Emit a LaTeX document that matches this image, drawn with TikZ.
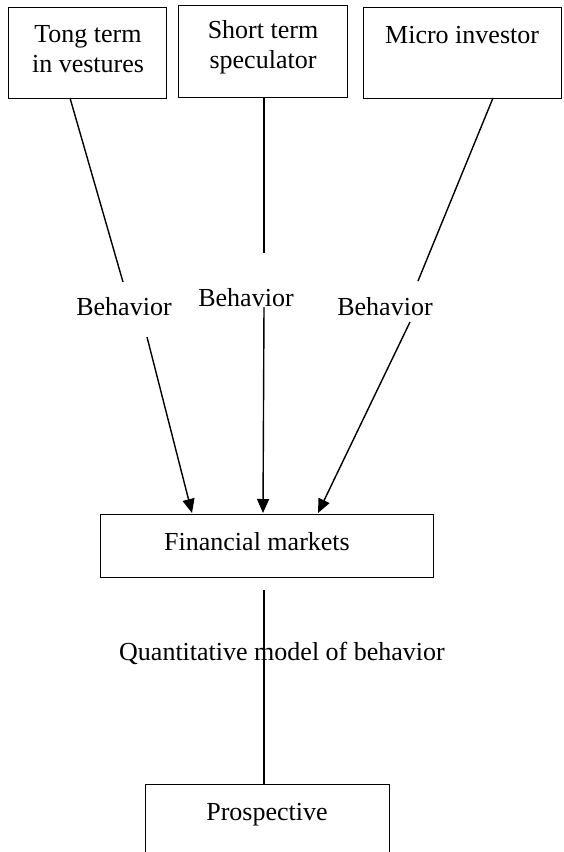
\documentclass[tikz,border=0pt]{standalone}
\usepackage{fontspec}
\setmainfont{Liberation Serif}
\usetikzlibrary{arrows.meta}
\begin{document}
\begin{tikzpicture}[x=1pt,y=-1pt,
  box/.style={draw, line width=1.4pt, inner sep=0pt, anchor=north west},
  lbl/.style={inner sep=0pt, anchor=base, font=\fontsize{26}{30}\selectfont},
  conn/.style={line width=1.4pt},
  arr/.style={line width=1.4pt, -{Triangle[length=14pt,width=12pt]}}]
\useasboundingbox (0,0) rectangle (563,852);
\clip (0,0) rectangle (563,852);
% boxes
\node[box, minimum width=158pt, minimum height=91pt] (b1) at (8,7) {};
\node[box, minimum width=169pt, minimum height=92pt] (b2) at (178,5) {};
\node[box, minimum width=198pt, minimum height=91pt] (b3) at (363,7) {};
\node[box, minimum width=333pt, minimum height=63pt] (fm) at (100,514) {};
\node[box, minimum width=244pt, minimum height=80pt] (pr) at (145,784) {};
% box texts
\node[lbl] (t1a) at (88,42) {Tong term};
\node[lbl] (t1b) at (88,72) {in vestures};
\node[lbl] (t2a) at (263,38) {Short term};
\node[lbl] (t2b) at (263,68) {speculator};
\node[lbl, anchor=base west] (t3) at (385,43) {Micro investor};
\node[lbl] (tfm) at (257,550) {Financial markets};
\node[lbl] (tpr) at (267,820) {Prospective};
% labels
\node[lbl] (be1) at (124,315) {Behavior};
\node[lbl] (be2) at (246,306) {Behavior};
\node[lbl] (be3) at (385,315) {Behavior};
\node[lbl] (qm) at (282,660) {Quantitative model of behavior};
% connector points
\coordinate (a1) at (70,98);
\coordinate (a2) at (123,282);
\coordinate (a3) at (147,337);
\coordinate (a4) at (192,513);
\coordinate (b1p) at (264,97);
\coordinate (b2p) at (264,253);
\coordinate (b3p) at (264,307);
\coordinate (b4p) at (263,513);
\coordinate (c1) at (493,98);
\coordinate (c2) at (418,281);
\coordinate (c3) at (410,322);
\coordinate (c4) at (318,513);
\coordinate (d1) at (264,590);
\coordinate (d2) at (264,784);
% connectors
\draw[conn] (a1) -- (a2);
\draw[arr] (a3) -- (a4);
\draw[conn] (b1p) -- (b2p);
\draw[arr] (b3p) -- (b4p);
\draw[conn] (c1) -- (c2);
\draw[arr] (c3) -- (c4);
\draw[conn] (d1) -- (d2);
\end{tikzpicture}
\end{document}
